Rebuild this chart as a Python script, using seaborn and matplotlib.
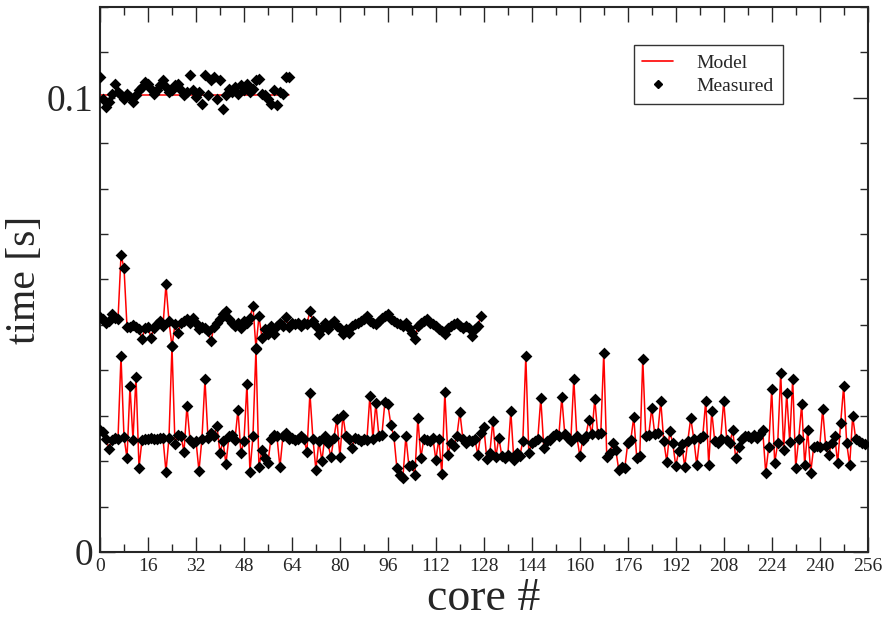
import numpy as np
import pandas as pd
import matplotlib
matplotlib.use("Agg")
import matplotlib.pyplot as plt
from matplotlib.lines import Line2D
from matplotlib.ticker import MultipleLocator
import seaborn as sns

# measured time per core, 64-core run
measured_64 = [
    0.1046, 0.0998, 0.0979, 0.0991, 0.1009, 0.1031, 0.1013, 0.1005,
    0.0998, 0.1009, 0.1002, 0.0991, 0.1005, 0.1016, 0.1024, 0.1035,
    0.1031, 0.1020, 0.1009, 0.1016, 0.1027, 0.1038, 0.1024, 0.1013,
    0.1016, 0.1027, 0.1031, 0.1016, 0.1005, 0.1013, 0.1049, 0.1016,
    0.1002, 0.1013, 0.0987, 0.1051, 0.1005, 0.1038, 0.1046, 0.0998,
    0.1038, 0.0976, 0.1005, 0.1020, 0.1013, 0.1024, 0.1009, 0.1027,
    0.1016, 0.1031, 0.1013, 0.1020, 0.1038, 0.1042, 0.1009, 0.1005,
    0.0998, 0.0987, 0.1016, 0.0983, 0.1013, 0.1009, 0.1046, 0.1046,
]
model_64 = [0.1005] * 64

# 128-core run
measured_128 = [
    0.0518, 0.0512, 0.0505, 0.0508, 0.0523, 0.0516, 0.0512, 0.0653,
    0.0626, 0.0496, 0.0496, 0.0499, 0.0496, 0.0490, 0.0468, 0.0494,
    0.0496, 0.0472, 0.0494, 0.0501, 0.0508, 0.0497, 0.0589, 0.0508,
    0.0453, 0.0501, 0.0483, 0.0505, 0.0508, 0.0512, 0.0505, 0.0516,
    0.0505, 0.0490, 0.0496, 0.0494, 0.0486, 0.0464, 0.0496, 0.0505,
    0.0512, 0.0523, 0.0531, 0.0512, 0.0505, 0.0497, 0.0505, 0.0494,
    0.0508, 0.0505, 0.0516, 0.0542, 0.0450, 0.0519, 0.0472, 0.0490,
    0.0479, 0.0497, 0.0479, 0.0497, 0.0505, 0.0497, 0.0518, 0.0496,
    0.0505, 0.0501, 0.0505, 0.0497, 0.0505, 0.0501, 0.0531, 0.0508,
    0.0497, 0.0479, 0.0494, 0.0505, 0.0490, 0.0501, 0.0508, 0.0497,
    0.0494, 0.0479, 0.0490, 0.0483, 0.0497, 0.0501, 0.0505, 0.0508,
    0.0512, 0.0519, 0.0508, 0.0505, 0.0501, 0.0508, 0.0516, 0.0519,
    0.0523, 0.0512, 0.0508, 0.0505, 0.0501, 0.0497, 0.0505, 0.0494,
    0.0483, 0.0468, 0.0497, 0.0505, 0.0508, 0.0512, 0.0505, 0.0501,
    0.0497, 0.0490, 0.0486, 0.0479, 0.0494, 0.0497, 0.0501, 0.0505,
    0.0497, 0.0494, 0.0497, 0.0494, 0.0476, 0.0490, 0.0497, 0.0519,
]

# 256-core run
measured_256 = [
    0.0269, 0.0265, 0.0250, 0.0227, 0.0247, 0.0251, 0.0250, 0.0431,
    0.0253, 0.0207, 0.0365, 0.0247, 0.0386, 0.0186, 0.0247, 0.0250,
    0.0248, 0.0251, 0.0250, 0.0249, 0.0252, 0.0251, 0.0177, 0.0252,
    0.0453, 0.0238, 0.0258, 0.0255, 0.0221, 0.0322, 0.0247, 0.0240,
    0.0245, 0.0179, 0.0250, 0.0380, 0.0252, 0.0262, 0.0255, 0.0278,
    0.0218, 0.0245, 0.0194, 0.0255, 0.0258, 0.0247, 0.0313, 0.0218,
    0.0244, 0.0370, 0.0176, 0.0255, 0.0447, 0.0187, 0.0225, 0.0207,
    0.0197, 0.0250, 0.0258, 0.0255, 0.0187, 0.0255, 0.0262, 0.0250,
    0.0252, 0.0247, 0.0249, 0.0255, 0.0250, 0.0221, 0.0350, 0.0250,
    0.0181, 0.0244, 0.0201, 0.0255, 0.0240, 0.0209, 0.0252, 0.0293,
    0.0209, 0.0302, 0.0255, 0.0250, 0.0229, 0.0252, 0.0250, 0.0245,
    0.0250, 0.0247, 0.0344, 0.0250, 0.0328, 0.0255, 0.0258, 0.0330,
    0.0325, 0.0280, 0.0255, 0.0185, 0.0170, 0.0163, 0.0255, 0.0190,
    0.0192, 0.0170, 0.0295, 0.0207, 0.0250, 0.0247, 0.0244, 0.0252,
    0.0203, 0.0250, 0.0172, 0.0352, 0.0214, 0.0240, 0.0234, 0.0255,
    0.0308, 0.0250, 0.0240, 0.0247, 0.0244, 0.0250, 0.0214, 0.0262,
    0.0275, 0.0205, 0.0218, 0.0289, 0.0209, 0.0252, 0.0212, 0.0207,
    0.0214, 0.0310, 0.0202, 0.0218, 0.0212, 0.0244, 0.0431, 0.0218,
    0.0240, 0.0244, 0.0250, 0.0339, 0.0229, 0.0244, 0.0247, 0.0255,
    0.0259, 0.0255, 0.0341, 0.0259, 0.0252, 0.0244, 0.0381, 0.0255,
    0.0212, 0.0247, 0.0255, 0.0291, 0.0259, 0.0337, 0.0259, 0.0262,
    0.0439, 0.0209, 0.0218, 0.0240, 0.0225, 0.0181, 0.0188, 0.0185,
    0.0240, 0.0247, 0.0297, 0.0207, 0.0212, 0.0425, 0.0255, 0.0258,
    0.0317, 0.0259, 0.0262, 0.0332, 0.0244, 0.0199, 0.0266, 0.0240,
    0.0190, 0.0222, 0.0237, 0.0188, 0.0244, 0.0295, 0.0250, 0.0192,
    0.0252, 0.0255, 0.0333, 0.0192, 0.0310, 0.0244, 0.0240, 0.0250,
    0.0333, 0.0247, 0.0240, 0.0268, 0.0207, 0.0231, 0.0250, 0.0255,
    0.0255, 0.0252, 0.0258, 0.0252, 0.0259, 0.0268, 0.0175, 0.0231,
    0.0358, 0.0196, 0.0240, 0.0394, 0.0225, 0.0350, 0.0243, 0.0381,
    0.0186, 0.0249, 0.0325, 0.0192, 0.0268, 0.0175, 0.0231, 0.0234,
    0.0231, 0.0315, 0.0234, 0.0214, 0.0240, 0.0255, 0.0196, 0.0285,
    0.0365, 0.0240, 0.0192, 0.0299, 0.0250, 0.0244, 0.0240, 0.0238,
]

x_ticks = list(range(0, 257, 16))
y_ticks = [0, 0.1]
y_tick_labels = ["0", "0.1"]

# build one long table, model follows the measured points for 128/256
frames = []
for run, meas, model in [("64", measured_64, model_64),
                         ("128", measured_128, measured_128),
                         ("256", measured_256, measured_256)]:
    frames.append(pd.DataFrame({"core": np.arange(len(meas)), "measured": meas,
                                "model": model, "run": run}))
df = pd.concat(frames, ignore_index=True)

sns.set_style("ticks")
plt.rcParams["font.family"] = ["Liberation Serif", "DejaVu Serif"]

fig, ax = plt.subplots(figsize=(8.89, 6.19), dpi=100)
fig.subplots_adjust(left=0.1125, right=0.976, top=0.989, bottom=0.108)

sns.lineplot(data=df, x="core", y="model", units="run", estimator=None,
             color="red", lw=1.1, ax=ax, legend=False)
sns.scatterplot(data=df, x="core", y="measured", marker="D", color="black",
                s=36, linewidth=0, ax=ax, legend=False, zorder=3)

ax.set_xlim(0, 256)
ax.set_ylim(0, 0.12)
ax.set_xticks(x_ticks)
ax.set_xticklabels([str(t) for t in x_ticks], fontsize=14)
ax.xaxis.set_minor_locator(MultipleLocator(8))
ax.set_yticks(y_ticks)
ax.set_yticklabels(y_tick_labels, fontsize=27)
ax.yaxis.set_minor_locator(MultipleLocator(0.01))
ax.tick_params(which="both", direction="in", top=True, right=True, width=1)
ax.tick_params(which="major", length=11)
ax.tick_params(which="minor", length=6)
ax.tick_params(axis="x", pad=4)
ax.tick_params(axis="y", pad=5)
for sp in ax.spines.values():
    sp.set_linewidth(1.5)

ax.set_xlabel("core #", fontsize=33, labelpad=2)
ax.set_ylabel("time [s]", fontsize=30, labelpad=2)

handles = [Line2D([], [], color="red", lw=1.2, label="Model"),
           Line2D([], [], color="black", marker="D", ms=4, lw=0, label="Measured")]
leg = ax.legend(handles=handles, loc="upper right", bbox_to_anchor=(0.902, 0.947),
                fontsize=14, frameon=True, fancybox=False, edgecolor="black",
                handlelength=1.6, handletextpad=1.2, borderpad=0.45, labelspacing=0.3)
leg.get_frame().set_linewidth(1.0)

plt.savefig("out.png")
plt.close(fig)
